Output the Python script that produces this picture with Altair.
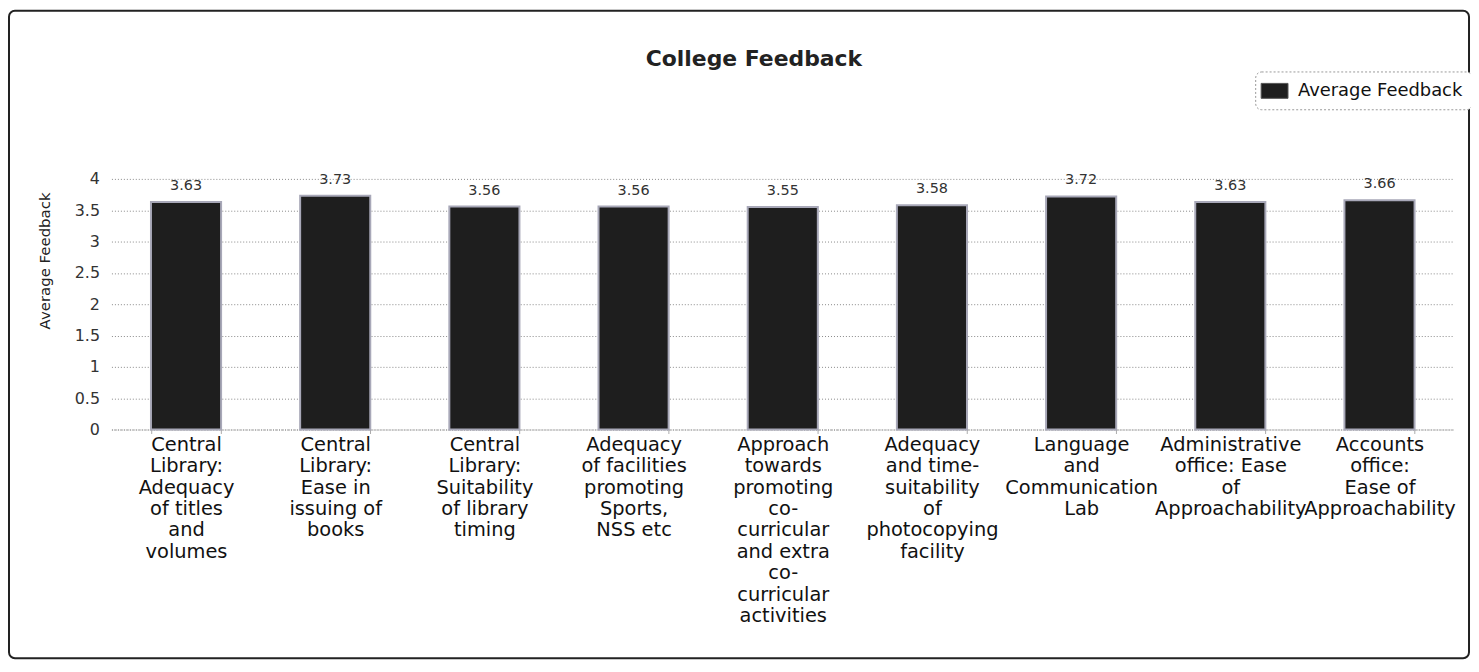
import altair as alt
import pandas as pd

categories = [
    "Central\nLibrary:\nAdequacy\nof titles\nand\nvolumes",
    "Central\nLibrary:\nEase in\nissuing of\nbooks",
    "Central\nLibrary:\nSuitability\nof library\ntiming",
    "Adequacy\nof facilities\npromoting\nSports,\nNSS etc",
    "Approach\ntowards\npromoting\nco-\ncurricular\nand extra\nco-\ncurricular\nactivities",
    "Adequacy\nand time-\nsuitability\nof\nphotocopying\nfacility",
    "Language\nand\nCommunication\nLab",
    "Administrative\noffice: Ease\nof\nApproachability",
    "Accounts\noffice:\nEase of\nApproachability",
]
values = [3.63, 3.73, 3.56, 3.56, 3.55, 3.58, 3.72, 3.63, 3.66]
series_name = ["Average Feedback"] * len(values)
y_ticks = [0, 0.5, 1, 1.5, 2, 2.5, 3, 3.5, 4]

df = pd.DataFrame({"category": categories, "value": values, "series": series_name})

W, H = 1350, 252
FONT = "DejaVu Sans"

x_enc = alt.X(
    "category:N",
    sort=categories,
    scale=alt.Scale(paddingInner=0.53, paddingOuter=0.265),
    axis=alt.Axis(
        title=None,
        labelExpr="split(datum.label, '\\n')",
        labelAngle=0,
        labelFont=FONT,
        labelFontSize=19.5,
        labelLineHeight=21.5,
        labelColor="#111",
        labelPadding=2,
        labelLimit=0,
        labelOverlap=False,
        domainColor="#999",
        domainDash=[1, 1],
        tickColor="#aaa",
        tickBand="extent",
        tickSize=4,
        grid=False,
    ),
)
y_enc = alt.Y(
    "value:Q",
    scale=alt.Scale(domain=[0, 4], nice=False),
    axis=alt.Axis(
        title="Average Feedback",
        titleFont=FONT,
        titleFontSize=15,
        titleFontWeight="normal",
        titleColor="#222",
        titleX=-67,
        titleY=82,
        titleAngle=270,
        titleAlign="center",
        titleBaseline="middle",
        values=y_ticks,
        labelExpr="'' + datum.value",
        labelFont=FONT,
        labelFontSize=16,
        labelColor="#333",
        labelPadding=12,
        labelOverlap=False,
        ticks=False,
        domain=False,
        grid=True,
        gridColor="#888",
        gridDash=[1, 2],
        gridWidth=1,
    ),
)

frame = alt.Chart(pd.DataFrame({"f": [0]})).mark_rect(
    fill="white", fillOpacity=0, stroke="#222", strokeWidth=2, cornerRadius=6
).encode(
    x=alt.value(-103), x2=alt.value(W + 15),
    y=alt.value(-169), y2=alt.value(482),
)

bars = alt.Chart(df).mark_bar(stroke="#a8a8b8", strokeWidth=2, fill="#1e1e1e").encode(
    x=x_enc,
    y=y_enc,
    color=alt.Color(
        "series:N",
        scale=alt.Scale(range=["#1e1e1e"]),
        legend=alt.Legend(
            title=None,
            orient="none",
            legendX=1150,
            legendY=-108,
            symbolType="M-1.35,-0.75H1.35V0.75H-1.35Z",
            symbolSize=400,
            symbolStrokeWidth=1,
            symbolStrokeColor="#555",
            labelFont=FONT,
            labelFontSize=18,
            labelColor="#111",
            labelOffset=13,
            labelLimit=0,
            strokeColor="#999",
            cornerRadius=6,
            padding=9,
            fillColor="white",
        ),
    ),
)

texts = alt.Chart(df).mark_text(
    baseline="alphabetic", dy=-12, font=FONT, fontSize=14.5, color="#333"
).encode(
    x=x_enc,
    y=y_enc,
    text=alt.Text("value:Q", format=".2f"),
)

chart = alt.layer(frame, bars, texts).properties(
    width=W,
    height=H,
    autosize=alt.AutoSizeParams(type="none"),
    padding={"left": 104, "top": 170, "right": 17, "bottom": 242},
    title=alt.Title(
        "College Feedback",
        font=FONT,
        fontSize=22,
        fontWeight="bold",
        color="#222",
        frame="group",
        anchor="middle",
        baseline="alphabetic",
        offset=-78,
        dx=-29,
    ),
).configure_view(stroke=None).configure_legend(strokeDash=[2, 2])

chart.save("out.html", embed_options={"renderer": "svg", "actions": False})
